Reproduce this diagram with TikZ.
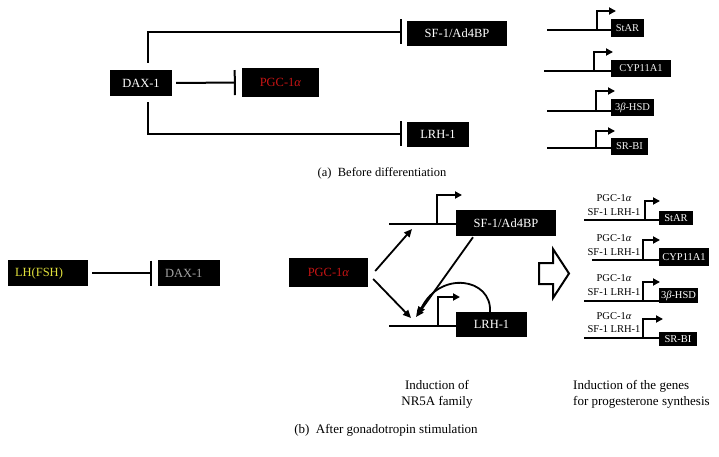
\documentclass[tikz,border=0pt]{standalone}
\usepackage{fontspec}
\setmainfont{Liberation Serif}
\usetikzlibrary{arrows.meta,calc}
\definecolor{pgcred}{RGB}{200,20,20}
\definecolor{lhyellow}{RGB}{225,225,60}
\definecolor{daxgray}{RGB}{165,165,165}
\begin{document}
\begin{tikzpicture}[x=1pt,y=-1pt,
  box/.style={fill=black,text=white,inner sep=0pt,font=\fontsize{12.5}{14}\selectfont},
  gbox/.style={fill=black,text=gray!12,inner sep=0pt,font=\fontsize{10.5}{12}\selectfont},
  conn/.style={line width=2pt},
  inh/.style={line width=2pt,-{Bar[width=25pt]}},
  prom/.style={line width=2pt,-{Triangle[length=7pt,width=7pt]}},
  act/.style={line width=1.8pt,-{Triangle[length=8pt,width=7pt]}},
  lbl/.style={font=\fontsize{10.5}{13}\selectfont,inner sep=0pt},
  captext/.style={font=\fontsize{12.5}{15}\selectfont,inner sep=0pt,align=center},
  captextb/.style={font=\fontsize{13}{16}\selectfont,inner sep=0pt,align=center},
]
\useasboundingbox (0,0) rectangle (719,457);

% ---------------- (a) ----------------
\node[box,minimum width=100,minimum height=25] (sfa) at (457,33.5) {SF-1/Ad4BP};
\node[box,minimum width=62,minimum height=26] (daxa) at (141,83) {DAX-1};
\node[box,minimum width=77,minimum height=29,text=pgcred] (pgca) at (280.5,82.5) {PGC-1\textit{α}};
\node[box,minimum width=62,minimum height=25] (lrha) at (438,134.5) {LRH-1};

\draw[inh] ($(daxa.north)+(7,-7)$) |- ($(sfa.west)+(-5,-1.5)$);
\draw[inh] ($(daxa.east)+(4,0)$) -- ($(pgca.west)+(-6,0)$);
\draw[inh] ($(daxa.south)+(7,6)$) |- ($(lrha.west)+(-5,-0.5)$);

% genes (a)
\node[gbox,minimum width=33,minimum height=18] (ga1) at (627.5,28) {StAR};
\node[gbox,minimum width=60,minimum height=17] (ga2) at (641,68.5) {CYP11A1};
\node[gbox,minimum width=43,minimum height=17] (ga3) at (632.5,107.5) {3\textit{β}-HSD};
\node[gbox,minimum width=37,minimum height=17] (ga4) at (629.5,146.5) {SR-BI};

\coordinate (ga1s) at (547,30);  \coordinate (ga1p) at (597,30);  \coordinate (ga1e) at (616,11);
\coordinate (ga2s) at (544,71);  \coordinate (ga2p) at (594,71);  \coordinate (ga2e) at (613,52);
\coordinate (ga3s) at (547,111); \coordinate (ga3p) at (596,111); \coordinate (ga3e) at (615,91);
\coordinate (ga4s) at (547,148); \coordinate (ga4p) at (596,148); \coordinate (ga4e) at (615,131);
\draw[conn] (ga1s) -- (ga1s -| ga1.west);
\draw[conn] (ga2s) -- (ga2s -| ga2.west);
\draw[conn] (ga3s) -- (ga3s -| ga3.west);
\draw[conn] (ga4s) -- (ga4s -| ga4.west);
\draw[prom] (ga1p) |- (ga1e);
\draw[prom] (ga2p) |- (ga2e);
\draw[prom] (ga3p) |- (ga3e);
\draw[prom] (ga4p) |- (ga4e);

\node[captext] (capa) at (382,173) {(a)\ \ Before differentiation};

% ---------------- (b) ----------------
\node[box,text=lhyellow,text width=66pt,inner xsep=7pt,minimum height=26,align=left] (lh) at (48,273) {LH(FSH)};
\node[box,text=daxgray,text width=48pt,inner xsep=7pt,minimum height=26,align=left] (daxb) at (189,273) {DAX-1};
\draw[inh] ($(lh.east)+(4,0)$) -- ($(daxb.west)+(-6,0)$);

\node[box,minimum width=79,minimum height=29,text=pgcred] (pgcb) at (328.5,272.5) {PGC-1\textit{α}};
\node[box,minimum width=100,minimum height=26] (sfb) at (506,223) {SF-1/Ad4BP};
\node[box,minimum width=71,minimum height=25] (lrhb) at (491.5,324.5) {LRH-1};

\coordinate (sfs) at (389,224); \coordinate (sfp) at (437,224); \coordinate (sfe) at (462,195);
\coordinate (lrs) at (389,326); \coordinate (lrp) at (438,326); \coordinate (lre) at (460,297);
\draw[conn] (sfs) -- (sfs -| sfb.west);
\draw[conn] (lrs) -- (lrs -| lrhb.west);
\draw[prom] (sfp) |- (sfe);
\draw[prom] (lrp) |- (lre);

\coordinate (t1) at (412,229);
\coordinate (t2) at (411,318);
\coordinate (t3) at (416,317);
\coordinate (t4) at (418,315);
\draw[act] ($(pgcb.east)+(7,-1.5)$) -- (t1);
\draw[act] ($(pgcb.east)+(5,6.5)$) -- (t2);
\draw[act] ($(sfb.south)+(-33,1)$) -- (t3);
\draw[act] ($(lrhb.north)+(-1.5,0)$) .. controls (492,278) and (440,270) .. (t4);

% big hollow arrow
\draw[line width=2pt,line join=miter] (539,263) -- (553,263) -- (553,249) -- (569,273.5)
  -- (553,298) -- (553,284) -- (539,284) -- cycle;

% genes (b)
\node[gbox,text=white,minimum width=34,minimum height=14] (gb1) at (676,218) {StAR};
\node[gbox,text=white,minimum width=50,minimum height=18] (gb2) at (684,257) {CYP11A1};
\node[gbox,text=white,minimum width=39,minimum height=15] (gb3) at (678.5,295.5) {3\textit{β}-HSD};
\node[gbox,text=white,minimum width=38,minimum height=14] (gb4) at (678,339) {SR-BI};

\node[lbl] (gb1a) at (614,198) {PGC-1\textit{α}};
\node[lbl] (gb1b) at (614,212) {SF-1 LRH-1};
\node[lbl] (gb2a) at (614,238) {PGC-1\textit{α}};
\node[lbl] (gb2b) at (614,252) {SF-1 LRH-1};
\node[lbl] (gb3a) at (614,278) {PGC-1\textit{α}};
\node[lbl] (gb3b) at (614,292) {SF-1 LRH-1};
\node[lbl] (gb4a) at (614,316) {PGC-1\textit{α}};
\node[lbl] (gb4b) at (614,329) {SF-1 LRH-1};

\coordinate (gb1s) at (584,220); \coordinate (gb1p) at (645,220); \coordinate (gb1e) at (660,201);
\coordinate (gb2s) at (592,260); \coordinate (gb2p) at (643,260); \coordinate (gb2e) at (660,240);
\coordinate (gb3s) at (584,301); \coordinate (gb3p) at (643,301); \coordinate (gb3e) at (660,282);
\coordinate (gb4s) at (584,338); \coordinate (gb4p) at (643,338); \coordinate (gb4e) at (663,319);
\draw[conn] (gb1s) -- (gb1s -| gb1.west);
\draw[conn] (gb2s) -- (gb2s -| gb2.west);
\draw[conn] (gb3s) -- (gb3s -| gb3.west);
\draw[conn] (gb4s) -- (gb4s -| gb4.west);
\draw[prom] (gb1p) |- (gb1e);
\draw[prom] (gb2p) |- (gb2e);
\draw[prom] (gb3p) |- (gb3e);
\draw[prom] (gb4p) |- (gb4e);

\node[captextb] (ind1) at (437,394) {Induction of\\NR5A family};
\node[captextb,anchor=west,align=left] (ind2) at (573,394) {Induction of the genes\\for progesterone synthesis};
\node[captextb] (capb) at (386,430) {(b)\ \ After gonadotropin stimulation};
\end{tikzpicture}
\end{document}
